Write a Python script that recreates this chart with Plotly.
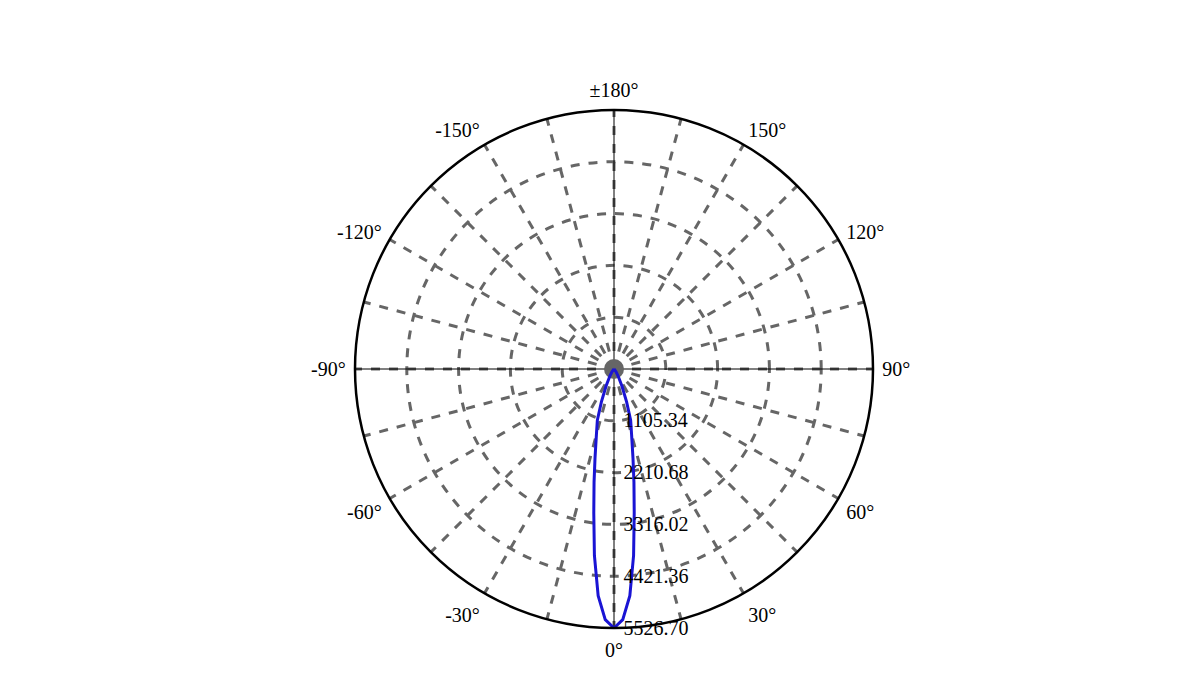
import plotly.graph_objects as go

# luminous intensity curve (cd), C0-C180 plane
angles = [-90, -60, -50, -45, -40, -35, -30, -25, -21, -18, -15, -12, -10, -8, -6, -4, -2, 0,
          2, 4, 6, 8, 10, 12, 15, 18, 21, 25, 30, 35, 40, 45, 50, 60, 90]
intensity = [0, 0, 5, 10, 30, 80, 180, 400, 750, 1150, 1450, 1950, 2450, 3100, 4000, 4850, 5350, 5526.70,
             5350, 4850, 4000, 3100, 2450, 1950, 1450, 1150, 750, 400, 180, 80, 30, 10, 5, 0, 0]

r_ticks = [1105.34, 2210.68, 3316.02, 4421.36, 5526.70]
r_labels = ["1105.34", "2210.68", "3316.02", "4421.36", "5526.70"]
a_ticks = list(range(0, 360, 15))
a_labels = []
for a in a_ticks:
    if a % 30 != 0:
        a_labels.append("")
    elif a == 180:
        a_labels.append("±180°")
    elif a > 180:
        a_labels.append(f"{a - 360}°")
    else:
        a_labels.append(f"{a}°")

rmax = r_ticks[-1]
fig = go.Figure()

# thin black cross-hair axes
fig.add_trace(go.Scatterpolar(r=[rmax, 0, rmax], theta=[-90, 0, 90], mode="lines",
                              line=dict(color="black", width=1), hoverinfo="skip", showlegend=False))
fig.add_trace(go.Scatterpolar(r=[rmax, 0, rmax], theta=[180, 0, 0], mode="lines",
                              line=dict(color="black", width=1), hoverinfo="skip", showlegend=False))
# centre dot
fig.add_trace(go.Scatterpolar(r=[0], theta=[0], mode="markers",
                              marker=dict(color="#666666", size=20), hoverinfo="skip", showlegend=False))

fig.add_trace(go.Scatterpolar(r=intensity, theta=angles, mode="lines",
                              line=dict(color="#1a14d4", width=3), showlegend=False))

fig.update_layout(
    width=1201, height=675,
    margin=dict(l=11, r=0, t=102, b=55),
    paper_bgcolor="white",
    font=dict(family="Liberation Serif", size=20, color="black"),
    polar=dict(
        bgcolor="white",
        angularaxis=dict(
            rotation=-90, direction="counterclockwise",
            tickmode="array", tickvals=a_ticks, ticktext=a_labels,
            showline=True, linecolor="black", linewidth=2.5,
            showgrid=True, gridcolor="#666666", griddash="dash", gridwidth=2.5,
            ticks="outside", ticklen=4, tickcolor="rgba(0,0,0,0)",
        ),
        radialaxis=dict(
            range=[0, rmax], angle=-90, tickangle=-90, side="counterclockwise",
            tickmode="array", tickvals=r_ticks, ticktext=r_labels,
            showline=False, ticks="outside", ticklen=5, tickcolor="rgba(0,0,0,0)",
            showgrid=True, gridcolor="#666666", griddash="dash", gridwidth=2.5,
        ),
    ),
)

fig.write_html("out.html")
